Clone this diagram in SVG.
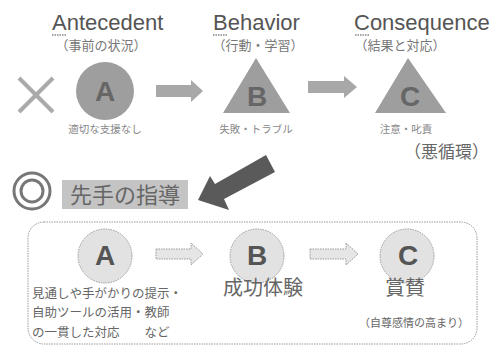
<svg xmlns="http://www.w3.org/2000/svg" width="492" height="352" viewBox="0 0 492 352">
<style>
.h{font-family:"Liberation Sans",Arial,sans-serif;font-size:22px;fill:#555}
.sub{font-family:"Noto Sans CJK JP",sans-serif;font-size:13px;fill:#777}
.sm{font-family:"Noto Sans CJK JP",sans-serif;font-size:10.5px;fill:#888}
.jp{font-family:"Noto Sans CJK JP",sans-serif;fill:#666}
.let{font-family:"Liberation Sans",Arial,sans-serif;font-weight:bold;font-size:28px;text-anchor:middle}
.ul{stroke:#888;stroke-width:1.5;stroke-dasharray:1.5 1}
.garrow{fill:#a8a8a8}
.larrow{fill:#e6e6e6;stroke:#999;stroke-width:1;stroke-dasharray:1.5 1}
.lc{fill:#e2e2e2;stroke:#999;stroke-width:1;stroke-dasharray:1.5 1}
</style>
<rect width="492" height="352" fill="#fff"/>

<g id="antecedent">
<text class="h" x="52" y="30">Antecedent</text>
<line class="ul" x1="52" y1="35" x2="66" y2="35"/>
<text class="sub" x="101" y="50" text-anchor="middle">（事前の状況）</text>
<g id="cross" stroke="#aaa" stroke-width="4">
<line x1="19" y1="78" x2="53" y2="112"/><line x1="53" y1="78" x2="19" y2="112"/>
</g>
<circle cx="105" cy="91" r="29" fill="#9e9e9e"/>
<text class="let" x="105" y="101" fill="#666">A</text>
<text class="sm" x="105" y="133" text-anchor="middle">適切な支援なし</text>
</g>

<g id="behavior">
<text class="h" x="213" y="30">Behavior</text>
<line class="ul" x1="213" y1="35" x2="227" y2="35"/>
<text class="sub" x="258" y="50" text-anchor="middle">（行動・学習）</text>
<polygon points="256,58 223,113 290,113" fill="#9e9e9e"/>
<text class="let" x="257" y="106" fill="#666">B</text>
<text class="sm" x="256" y="133" text-anchor="middle">失敗・トラブル</text>
</g>

<g id="consequence">
<text class="h" x="354" y="30">Consequence</text>
<line class="ul" x1="355" y1="35" x2="370" y2="35"/>
<text class="sub" x="400" y="50" text-anchor="middle">（結果と対応）</text>
<polygon points="408,58 375,113 446,113" fill="#9e9e9e"/>
<text class="let" x="410" y="106" fill="#666">C</text>
<text class="sm" x="406" y="133" text-anchor="middle">注意・叱責</text>
<text class="jp" x="489" y="158" font-size="17" text-anchor="end" fill="#555">（悪循環）</text>
</g>

<g id="sente">
<circle cx="32" cy="191" r="18" fill="none" stroke="#777" stroke-width="3"/>
<circle cx="32" cy="191" r="11" fill="none" stroke="#777" stroke-width="3"/>
<rect x="62" y="180" width="126" height="29" fill="#c4c4c4"/>
<text class="jp" x="125" y="203" font-size="22" text-anchor="middle" fill="#555">先手の指導</text>
</g>

<g id="box">
<rect x="28" y="222" width="449" height="122" rx="16" fill="none" stroke="#999" stroke-width="1" stroke-dasharray="1.5 1"/>
</g>

<g id="goodA">
<circle class="lc" cx="105" cy="256" r="27"/>
<text class="let" x="105" y="265" fill="#555">A</text>
<text class="jp" x="32" y="298" font-size="12.5" fill="#777">見通しや手がかりの提示・</text>
<text class="jp" x="32" y="317" font-size="12.5" fill="#777">自助ツールの活用・教師</text>
<text class="jp" x="32" y="337" font-size="12.5" fill="#777">の一貫した対応　　など</text>
</g>

<g id="goodB">
<circle class="lc" cx="257" cy="256" r="27"/>
<text class="let" x="257" y="265" fill="#555">B</text>
<text class="jp" x="263" y="295" font-size="20" text-anchor="middle" fill="#666">成功体験</text>
</g>

<g id="goodC">
<circle class="lc" cx="407" cy="256" r="27"/>
<text class="let" x="408" y="265" fill="#555">C</text>
<text class="jp" x="405" y="295" font-size="20" text-anchor="middle" fill="#666">賞賛</text>
<text class="jp" x="414" y="327" font-size="11" text-anchor="middle" fill="#777">（自尊感情の高まり）</text>
</g>

<g id="connectors">
<polygon class="garrow" points="156,85 191,85 191,80 203,91 191,102 191,97 156,97"/>
<polygon class="garrow" points="308,81 344,81 344,76 357,87 344,98 344,93 308,93"/>
<polygon fill="#5a5a5a" points="266,155 275,172 224,199 229,210 198,200 210,176 215,184"/>
<polygon class="larrow" points="156,249 191,249 191,243 203,254 191,265 191,259 156,259"/>
<polygon class="larrow" points="310,249 346,249 346,243 358,254 346,265 346,259 310,259"/>
</g>
</svg>
